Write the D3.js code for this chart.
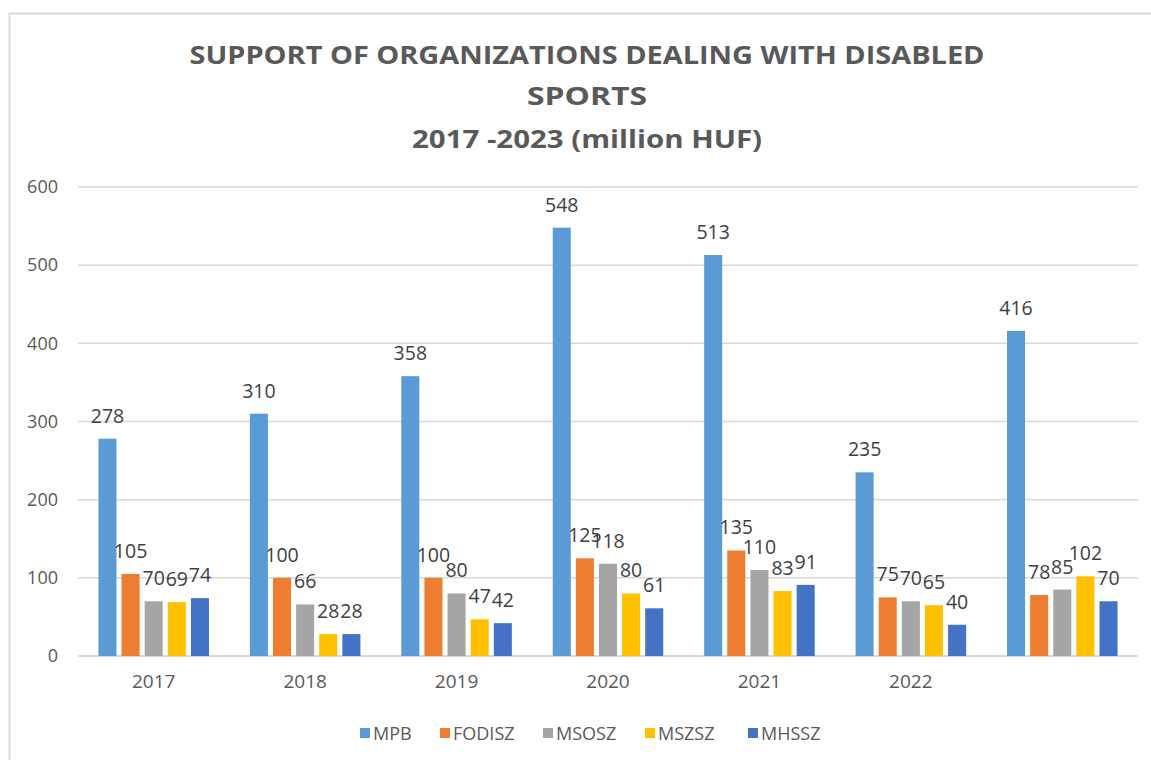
<!DOCTYPE html>
<html>
<head>
<meta charset="utf-8">
<script src="https://cdn.jsdelivr.net/npm/d3@7"></script>
<style>
  body { margin: 0; background: #fff; }
  svg { display: block; }
</style>
</head>
<body>
<svg id="chart"></svg>
<script>
// data
var categories = ["2017", "2018", "2019", "2020", "2021", "2022", ""];
var seriesNames = ["MPB", "FODISZ", "MSOSZ", "MSZSZ", "MHSSZ"];
var seriesColors = ["#5b9bd5", "#ed7d31", "#a5a5a5", "#ffc000", "#4472c4"];
var mpb    = [278, 310, 358, 548, 513, 235, 416];
var fodisz = [105, 100, 100, 125, 135, 75, 78];
var msosz  = [70, 66, 80, 118, 110, 70, 85];
var mszsz  = [69, 28, 47, 80, 83, 65, 102];
var mhssz  = [74, 28, 42, 61, 91, 40, 70];
var yTicks = [0, 100, 200, 300, 400, 500, 600];
var titleLines = ["SUPPORT OF ORGANIZATIONS DEALING WITH DISABLED", "SPORTS", "2017 -2023 (million HUF)"];

var seriesValues = [mpb, fodisz, msosz, mszsz, mhssz];

const width = 1151;
const height = 760;
const margin = {left: 78, right: 13, top: 187, bottom: 104};
const font = "'Open Sans', sans-serif";

const svg = d3.select('#chart')
    .attr("width", width)
    .attr("height", height);

// chart frame
svg.append("rect")
    .attr("x", 9.5)
    .attr("y", 13.5)
    .attr("width", 1200)
    .attr("height", 900)
    .attr("fill", "none")
    .attr("stroke", "#d9d9d9")
    .attr("stroke-width", 2);

// title (stretched a bit to match the condensed, wide original)
var titleY = [64, 105, 148];
var titleLen = [795, 120, 350];
svg.append("g").selectAll("text")
  .data(titleLines)
  .enter().append("text")
    .attr("x", 587)
    .attr("y", (d, i) => titleY[i])
    .attr("text-anchor", "middle")
    .attr("font-family", font)
    .attr("font-weight", "bold")
    .attr("font-size", 25)
    .attr("textLength", (d, i) => titleLen[i])
    .attr("lengthAdjust", "spacingAndGlyphs")
    .attr("fill", "#595959")
    .text(d => d);

var x0 = d3.scaleBand()
    .domain(d3.range(categories.length))
    .range([margin.left, width - margin.right])
    .paddingInner(0.27)
    .paddingOuter(0.135);

var x1 = d3.scaleBand()
    .domain(d3.range(seriesNames.length))
    .range([0, x0.bandwidth()])
    .paddingInner(0.22);

var y = d3.scaleLinear()
    .domain([0, 600])
    .range([height - margin.bottom, margin.top]);

// gridlines
svg.append("g").selectAll("line")
  .data(yTicks)
  .enter().append("line")
    .attr("x1", margin.left)
    .attr("x2", width - margin.right)
    .attr("y1", d => y(d))
    .attr("y2", d => y(d))
    .attr("stroke", "#d9d9d9")
    .attr("stroke-width", d => d === 0 ? 2 : 1.5);

// y axis labels
var yAxis = svg.append("g")
    .attr("transform", "translate(" + margin.left + ",0)")
    .call(d3.axisLeft(y).tickValues(yTicks).tickSize(0).tickPadding(20));
yAxis.select(".domain").remove();
yAxis.selectAll("text")
    .attr("font-family", font)
    .attr("font-size", 18)
    .attr("fill", "#595959");

// x axis labels
var xAxis = svg.append("g")
    .attr("transform", "translate(0," + y(0) + ")")
    .call(d3.axisBottom(x0).tickFormat(i => categories[i]).tickSize(0).tickPadding(19));
xAxis.select(".domain").remove();
xAxis.selectAll("text")
    .attr("font-family", font)
    .attr("font-size", 19)
    .attr("fill", "#595959");

// bars
var groups = svg.append("g").selectAll("g")
  .data(categories.map((c, i) => i))
  .enter().append("g")
    .attr("transform", i => "translate(" + x0(i) + ",0)");

groups.selectAll("rect")
  .data(i => seriesValues.map((vals, s) => ({s: s, v: vals[i]})))
  .enter().append("rect")
    .attr("x", d => x1(d.s))
    .attr("width", x1.bandwidth())
    .attr("y", d => y(d.v))
    .attr("height", d => y(0) - y(d.v))
    .attr("fill", d => seriesColors[d.s]);

groups.selectAll("text")
  .data(i => seriesValues.map((vals, s) => ({s: s, v: vals[i]})))
  .enter().append("text")
    .attr("x", d => x1(d.s) + x1.bandwidth() / 2)
    .attr("y", d => y(d.v) - 16)
    .attr("text-anchor", "middle")
    .attr("font-family", font)
    .attr("font-size", 19.5)
    .attr("fill", "#404040")
    .text(d => d.v);

// legend
var legendX = [360, 440, 543, 645, 748];
var legend = svg.append("g").selectAll("g")
  .data(seriesNames)
  .enter().append("g")
    .attr("transform", (d, i) => "translate(" + legendX[i] + ",728)");

legend.append("rect")
    .attr("width", 10)
    .attr("height", 10)
    .attr("fill", (d, i) => seriesColors[i]);

legend.append("text")
    .attr("x", 13)
    .attr("y", 11.5)
    .attr("font-family", font)
    .attr("font-size", 18)
    .attr("fill", "#595959")
    .text(d => d);
</script>
</body>
</html>
